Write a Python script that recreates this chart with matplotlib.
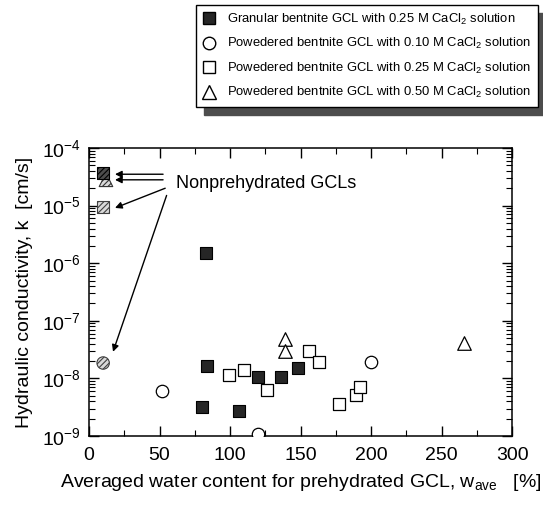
import matplotlib
matplotlib.use("Agg")
from matplotlib import pyplot as plt
from matplotlib.lines import Line2D
from matplotlib.ticker import MultipleLocator, LogLocator

plt.rcParams['font.family'] = ['Liberation Sans', 'DejaVu Sans']
plt.rcParams['mathtext.fontset'] = 'custom'
plt.rcParams['mathtext.rm'] = 'Liberation Sans'
plt.rcParams['mathtext.it'] = 'Liberation Sans'
plt.rcParams['hatch.linewidth'] = 0.8

# granular bentonite GCL, 0.25 M CaCl2
gran_x = [83, 84, 80, 106, 120, 136, 148]
gran_k = [1.5e-6, 1.65e-8, 3.2e-9, 2.7e-9, 1.05e-8, 1.05e-8, 1.5e-8]
# powdered, 0.10 M
p10_x = [52, 120, 200]
p10_k = [6e-9, 1.07e-9, 1.9e-8]
# powdered, 0.25 M
p25_x = [99, 110, 126, 156, 163, 177, 189, 192]
p25_k = [1.15e-8, 1.4e-8, 6.3e-9, 3e-8, 1.9e-8, 3.6e-9, 5.1e-9, 7e-9]
# powdered, 0.50 M
p50_x = [139, 139, 266]
p50_k = [4.8e-8, 3e-8, 4.1e-8]
# nonprehydrated GCLs
np_gran_x, np_gran_k = [10], [3.7e-5]
np_p25_x, np_p25_k = [10], [9.5e-6]
np_p10_x, np_p10_k = [10], [1.85e-8]
np_p50_x, np_p50_k = [12], [2.8e-5]

fig = plt.figure(figsize=(5.43, 5.05), dpi=100)
ax = fig.add_axes([0.164, 0.1366, 0.779, 0.5704])

ms = 80
ax.scatter(np_p50_x, np_p50_k, marker='^', s=95, facecolor='0.85', edgecolor='0.2',
           hatch='//////', linewidths=0.8, zorder=3)
ax.scatter(np_gran_x, np_gran_k, marker='s', s=ms, facecolor='0.3', edgecolor='k',
           hatch='//////', linewidths=0.8, zorder=4)
ax.scatter(np_p25_x, np_p25_k, marker='s', s=ms, facecolor='0.85', edgecolor='0.25',
           hatch='//////', linewidths=0.8, zorder=4)
ax.scatter(np_p10_x, np_p10_k, marker='o', s=ms, facecolor='0.85', edgecolor='0.25',
           hatch='//////', linewidths=0.8, zorder=4)

ax.scatter(gran_x, gran_k, marker='s', s=ms, facecolor='0.15', edgecolor='k', linewidths=0.8, zorder=3)
ax.scatter(p10_x, p10_k, marker='o', s=ms, facecolor='white', edgecolor='k', linewidths=0.9, zorder=3)
ax.scatter(p25_x, p25_k, marker='s', s=ms, facecolor='white', edgecolor='k', linewidths=0.9, zorder=3)
ax.scatter(p50_x, p50_k, marker='^', s=95, facecolor='white', edgecolor='k', linewidths=0.9, zorder=3)

ax.set_yscale('log')
ax.set_xlim(0, 300)
ax.set_ylim(1e-9, 1e-4)
ax.xaxis.set_major_locator(MultipleLocator(50))
ax.xaxis.set_minor_locator(MultipleLocator(25))
ax.yaxis.set_minor_locator(LogLocator(base=10, subs=range(2, 10), numticks=20))
ax.set_yticks([1e-9, 1e-8, 1e-7, 1e-6, 1e-5, 1e-4])
ax.set_yticklabels([r'$\mathregular{10^{%d}}$' % e for e in range(-9, -3)])
ax.yaxis.set_minor_formatter(plt.NullFormatter())
ax.tick_params(which='both', direction='in', top=True, right=True, labelsize=14)
ax.tick_params(which='major', length=7, width=1)
ax.tick_params(which='minor', length=4, width=0.8)
ax.tick_params(axis='x', pad=8)
ax.tick_params(axis='y', pad=6)
for s in ax.spines.values():
    s.set_linewidth(1.1)

ax.set_ylabel('Hydraulic conductivity, k  [cm/s]', fontsize=14, labelpad=6)
ax.set_xlabel(r'Averaged water content for prehydrated GCL, w$_{\mathregular{ave}}$   [%]',
              fontsize=14, labelpad=6)

# annotation
ax.text(62, 2.45e-5, 'Nonprehydrated GCLs', fontsize=13, va='center', ha='left')
arr = dict(arrowstyle='-|>', color='k', lw=1.0, mutation_scale=10, shrinkA=0, shrinkB=0)
ax.annotate('', xy=(18.4, 3.5e-5), xytext=(52.5, 3.5e-5), arrowprops=arr)
ax.annotate('', xy=(18.4, 2.8e-5), xytext=(52.5, 2.8e-5), arrowprops=arr)
ax.annotate('', xy=(18.4, 9.1e-6), xytext=(54, 2.0e-5), arrowprops=arr)
ax.annotate('', xy=(17, 2.9e-8), xytext=(55, 1.5e-5), arrowprops=arr)

handles = [
    Line2D([], [], marker='s', ls='none', ms=9, mfc='0.15', mec='k'),
    Line2D([], [], marker='o', ls='none', ms=9, mfc='white', mec='k'),
    Line2D([], [], marker='s', ls='none', ms=9, mfc='white', mec='k'),
    Line2D([], [], marker='^', ls='none', ms=9.5, mfc='white', mec='k'),
]
labels = [
    r'Granular bentnite GCL with 0.25 M CaCl$_{\mathregular{2}}$ solution',
    r'Powedered bentnite GCL with 0.10 M CaCl$_{\mathregular{2}}$ solution',
    r'Powedered bentnite GCL with 0.25 M CaCl$_{\mathregular{2}}$ solution',
    r'Powedered bentnite GCL with 0.50 M CaCl$_{\mathregular{2}}$ solution',
]
leg = fig.legend(handles, labels, loc='upper left', bbox_to_anchor=(0.361, 0.99),
                 fontsize=9.4, frameon=True, fancybox=False, edgecolor='k',
                 shadow={'color': '0.3', 'alpha': 1, 'ox': 6, 'oy': -6},
                 handlelength=1.0, handletextpad=0.9, labelspacing=0.72,
                 borderpad=0.5, borderaxespad=0)
leg.get_frame().set_linewidth(1.0)

fig.savefig('out.png', dpi=100)
